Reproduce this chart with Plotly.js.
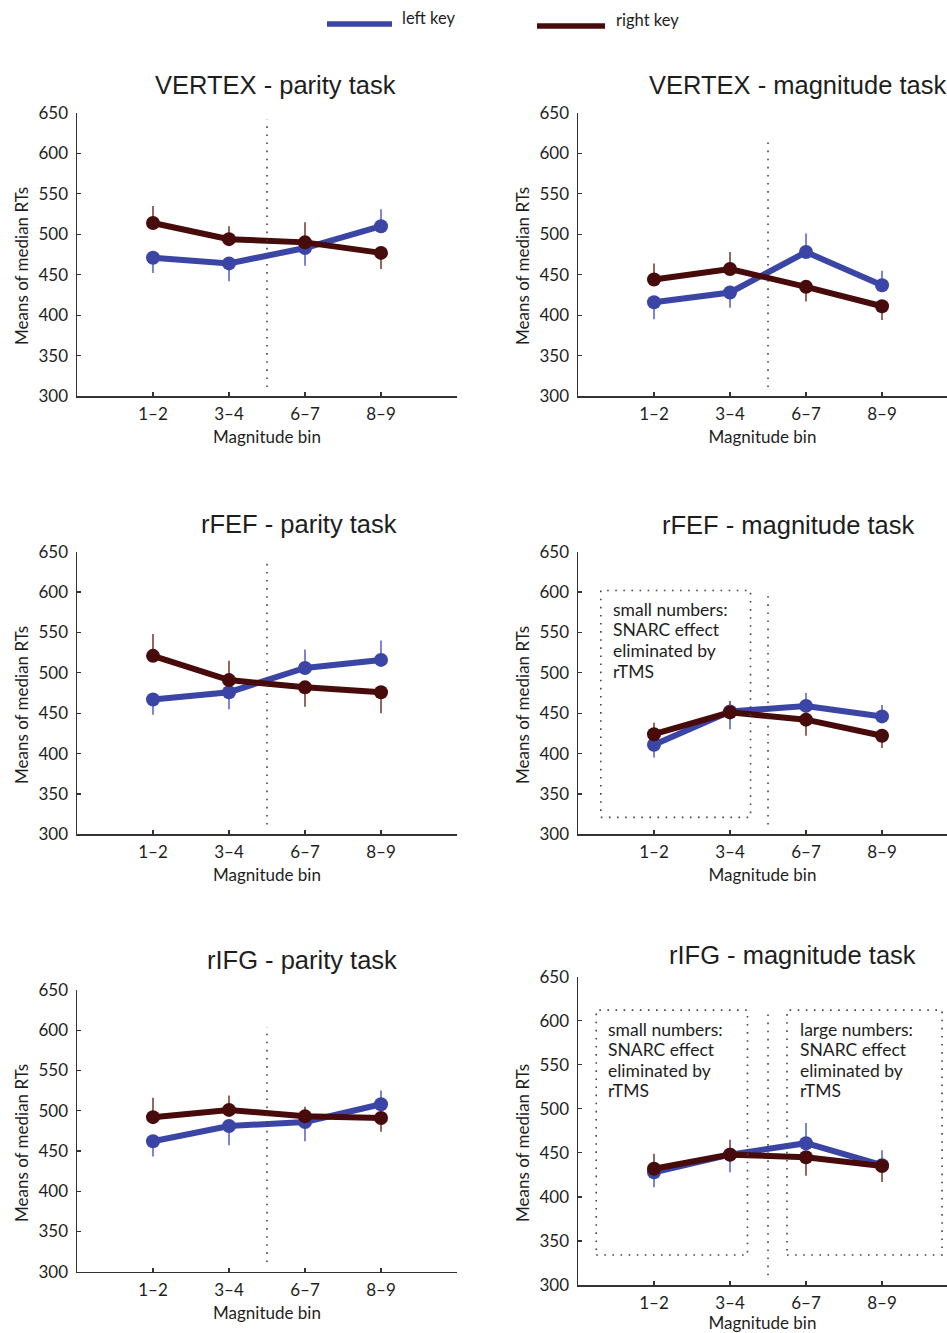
<!DOCTYPE html>
<html>
<head>
<meta charset="utf-8">
<script src="https://cdn.plot.ly/plotly-3.0.1.min.js"></script>
<style>html,body{margin:0;padding:0;background:#fff;}#chart{width:947px;height:1333px;}</style>
</head>
<body>
<div id="chart"></div>
<script>
// ---------------- DATA ----------------
const bins = ['1–2', '3–4', '6–7', '8–9'];
const yTickVals = [300, 350, 400, 450, 500, 550, 600, 650];
const seriesNames = ['left key', 'right key'];
const panelTitles = [
  'VERTEX - parity task', 'VERTEX - magnitude task',
  'rFEF - parity task', 'rFEF - magnitude task',
  'rIFG - parity task', 'rIFG - magnitude task'
];

// VERTEX - parity task
const vertexParityLeft = [471, 464, 483, 510];
const vertexParityLeftErrUp = [0, 0, 0, 21];
const vertexParityLeftErrDown = [19, 22, 22, 0];
const vertexParityRight = [514, 494, 490, 477];
const vertexParityRightErrUp = [21, 16, 25, 0];
const vertexParityRightErrDown = [0, 0, 0, 20];

// VERTEX - magnitude task
const vertexMagLeft = [416, 428, 478, 437];
const vertexMagLeftErrUp = [0, 0, 23, 18];
const vertexMagLeftErrDown = [21, 19, 0, 0];
const vertexMagRight = [444, 457, 435, 411];
const vertexMagRightErrUp = [20, 21, 0, 0];
const vertexMagRightErrDown = [0, 0, 18, 17];

// rFEF - parity task
const rfefParityLeft = [467, 476, 506, 516];
const rfefParityLeftErrUp = [0, 0, 23, 24];
const rfefParityLeftErrDown = [19, 21, 0, 0];
const rfefParityRight = [521, 491, 482, 476];
const rfefParityRightErrUp = [27, 24, 0, 0];
const rfefParityRightErrDown = [0, 0, 24, 26];

// rFEF - magnitude task
const rfefMagLeft = [411, 452, 459, 446];
const rfefMagLeftErrUp = [0, 0, 16, 14];
const rfefMagLeftErrDown = [16, 22, 0, 0];
const rfefMagRight = [424, 451, 442, 422];
const rfefMagRightErrUp = [14, 14, 0, 0];
const rfefMagRightErrDown = [0, 0, 20, 15];

// rIFG - parity task
const rifgParityLeft = [462, 481, 486, 508];
const rifgParityLeftErrUp = [0, 0, 0, 17];
const rifgParityLeftErrDown = [19, 24, 24, 0];
const rifgParityRight = [492, 501, 493, 491];
const rifgParityRightErrUp = [24, 18, 12, 0];
const rifgParityRightErrDown = [0, 0, 0, 17];

// rIFG - magnitude task
const rifgMagLeft = [428, 448, 461, 436];
const rifgMagLeftErrUp = [0, 0, 23, 17];
const rifgMagLeftErrDown = [17, 20, 0, 0];
const rifgMagRight = [432, 448, 445, 435];
const rifgMagRightErrUp = [17, 17, 0, 0];
const rifgMagRightErrDown = [0, 0, 21, 18];

const noteSmallLines = ['small numbers:', 'SNARC effect', 'eliminated by', 'rTMS'];
const noteLargeLines = ['large numbers:', 'SNARC effect', 'eliminated by', 'rTMS'];

// ---------------- STYLE / GEOMETRY ----------------
const W = 947, H = 1333;
const px = x => x / W;
const py = y => 1 - y / H;
const BLUE = '#3b45a6', BLUE_ERR = '#5c67c9';
const RED = '#480b0b', RED_ERR = '#7a4238';
const AXC = '#333333';
const TXT = '#1e1e1e';
const BODY_FONT = 'Lato, "Open Sans", sans-serif';
const TITLE_FONT = '"Liberation Sans", Arial, sans-serif';

const panelData = [
  [vertexParityLeft, vertexParityLeftErrUp, vertexParityLeftErrDown, vertexParityRight, vertexParityRightErrUp, vertexParityRightErrDown],
  [vertexMagLeft, vertexMagLeftErrUp, vertexMagLeftErrDown, vertexMagRight, vertexMagRightErrUp, vertexMagRightErrDown],
  [rfefParityLeft, rfefParityLeftErrUp, rfefParityLeftErrDown, rfefParityRight, rfefParityRightErrUp, rfefParityRightErrDown],
  [rfefMagLeft, rfefMagLeftErrUp, rfefMagLeftErrDown, rfefMagRight, rfefMagRightErrUp, rfefMagRightErrDown],
  [rifgParityLeft, rifgParityLeftErrUp, rifgParityLeftErrDown, rifgParityRight, rifgParityRightErrUp, rifgParityRightErrDown],
  [rifgMagLeft, rifgMagLeftErrUp, rifgMagLeftErrDown, rifgMagRight, rifgMagRightErrUp, rifgMagRightErrDown]
];

// pixel geometry of each panel
const geom = [
  {x0: 77, x1: 457, xr: [-1, 4], yt: 113, yb: 396, titleX: 153, titleY: 85, ytitleX: 21, ytitleY: 266, vline: [311, 642]},
  {x0: 578, x1: 947, xr: [-1, 3.855], yt: 113, yb: 396, titleX: 647, titleY: 85, ytitleX: 522, ytitleY: 266, vline: [311, 616]},
  {x0: 77, x1: 457, xr: [-1, 4], yt: 551.7, yb: 834.3, titleX: 199, titleY: 524, ytitleX: 21, ytitleY: 705, vline: [312, 642]},
  {x0: 578, x1: 947, xr: [-1, 3.855], yt: 551.7, yb: 834.3, titleX: 660, titleY: 525, ytitleX: 522, ytitleY: 705, vline: [312, 603]},
  {x0: 77, x1: 457, xr: [-1, 4], yt: 990, yb: 1271.7, titleX: 205, titleY: 960, ytitleX: 21, ytitleY: 1143, vline: [312, 604]},
  {x0: 578, x1: 947, xr: [-1, 3.855], yt: 976.7, yb: 1285, titleX: 667, titleY: 955, ytitleX: 522, ytitleY: 1143, vline: [311, 611]}
];

const traces = [];
const layout = {
  width: W, height: H,
  margin: {l: 0, r: 0, t: 0, b: 0},
  paper_bgcolor: '#ffffff', plot_bgcolor: '#ffffff',
  showlegend: false,
  font: {family: BODY_FONT, size: 17, color: TXT},
  shapes: [], annotations: []
};

geom.forEach((g, i) => {
  const n = i + 1;
  const xa = 'x' + (n === 1 ? '' : n), ya = 'y' + (n === 1 ? '' : n);
  const d = panelData[i];
  const mk = (vals, up, down, color, ecolor, name) => ({
    type: 'scatter', mode: 'lines+markers', name: name,
    x: bins, y: vals, xaxis: xa, yaxis: ya,
    line: {color: color, width: 6},
    marker: {color: color, size: 14},
    error_y: {type: 'data', symmetric: false, array: up, arrayminus: down,
              color: ecolor, thickness: 1.6, width: 0},
    cliponaxis: false, hoverinfo: 'x+y+name'
  });
  traces.push(mk(d[0], d[1], d[2], BLUE, BLUE_ERR, seriesNames[0]));
  traces.push(mk(d[3], d[4], d[5], RED, RED_ERR, seriesNames[1]));

  layout['xaxis' + (n === 1 ? '' : n)] = {
    domain: [px(g.x0), px(g.x1)], anchor: ya, type: 'category',
    range: g.xr, categoryorder: 'array', categoryarray: bins,
    showline: true, linecolor: AXC, linewidth: 1.5, mirror: false,
    ticks: 'inside', ticklen: 4, tickwidth: 1.2, tickcolor: AXC,
    showgrid: false, zeroline: false, fixedrange: true,
    tickfont: {family: BODY_FONT, size: 17, color: TXT},
    ticklabelstandoff: 2,
    title: {text: 'Magnitude bin', font: {family: BODY_FONT, size: 17, color: TXT}, standoff: 8},
    automargin: false
  };
  layout['yaxis' + (n === 1 ? '' : n)] = {
    domain: [py(g.yb), py(g.yt)], anchor: xa,
    range: [300, 650], tickvals: yTickVals, ticktext: yTickVals.map(String),
    showline: true, linecolor: AXC, linewidth: 1.5,
    ticks: 'inside', ticklen: 4, tickwidth: 1.2, tickcolor: AXC,
    showgrid: false, zeroline: false, fixedrange: true,
    tickfont: {family: BODY_FONT, size: 17, color: TXT},
    ticklabelstandoff: 4,
    automargin: false
  };

  // dotted midline between small and large numbers
  layout.shapes.push({type: 'line', xref: xa, yref: ya, x0: 1.5, x1: 1.5, y0: g.vline[0], y1: g.vline[1],
    line: {color: '#444', width: 1.6, dash: '1.6px,6.5px'}});

  // panel title
  layout.annotations.push({xref: 'paper', yref: 'paper', x: px(g.titleX), y: py(g.titleY),
    xanchor: 'left', yanchor: 'middle', showarrow: false, text: panelTitles[i],
    font: {family: TITLE_FONT, size: 25.5, color: TXT}});
  // y axis title
  layout.annotations.push({xref: 'paper', yref: 'paper', x: px(g.ytitleX), y: py(g.ytitleY),
    xanchor: 'center', yanchor: 'middle', showarrow: false, textangle: -90,
    text: 'Means of median RTs', font: {family: BODY_FONT, size: 17, color: TXT}});
});

// dotted boxes + notes (rFEF magnitude, rIFG magnitude)
const boxLine = {color: '#444', width: 1.6, dash: '1.6px,6.5px'};
layout.shapes.push({type: 'rect', xref: 'x4', yref: 'y4', x0: -0.70, x1: 1.27, y0: 321, y1: 602, line: boxLine});
layout.shapes.push({type: 'rect', xref: 'x6', yref: 'y6', x0: -0.76, x1: 1.23, y0: 334, y1: 612, line: boxLine});
layout.shapes.push({type: 'rect', xref: 'x6', yref: 'y6', x0: 1.75, x1: 3.79, y0: 334, y1: 612, line: boxLine});
const noteFont = {family: BODY_FONT, size: 17.5, color: TXT};
const addNote = (xref, yref, x, ys, lines) => lines.forEach((t, k) => layout.annotations.push({
  xref: xref, yref: yref, x: x, y: ys[k], xanchor: 'left', yanchor: 'middle', align: 'left',
  showarrow: false, text: t, font: noteFont}));
addNote('x4', 'y4', -0.56, [578.5, 553.7, 528, 502], noteSmallLines);
addNote('x6', 'y6', -0.63, [590.6, 567.5, 544, 520.6], noteSmallLines);
addNote('x6', 'y6', 1.89, [590.6, 567.5, 544, 520.6], noteLargeLines);

// key samples at top
layout.shapes.push({type: 'line', xref: 'paper', yref: 'paper', x0: px(327), x1: px(392), y0: py(24), y1: py(24), line: {color: BLUE, width: 5.5}});
layout.shapes.push({type: 'line', xref: 'paper', yref: 'paper', x0: px(537), x1: px(605), y0: py(26), y1: py(26), line: {color: RED, width: 5.5}});
layout.annotations.push({xref: 'paper', yref: 'paper', x: px(400), y: py(18), xanchor: 'left', yanchor: 'middle', showarrow: false, text: seriesNames[0], font: {family: BODY_FONT, size: 16.5, color: TXT}});
layout.annotations.push({xref: 'paper', yref: 'paper', x: px(614), y: py(20), xanchor: 'left', yanchor: 'middle', showarrow: false, text: seriesNames[1], font: {family: BODY_FONT, size: 16.5, color: TXT}});

Plotly.newPlot('chart', traces, layout, {displayModeBar: false, staticPlot: true});
</script>
</body>
</html>
